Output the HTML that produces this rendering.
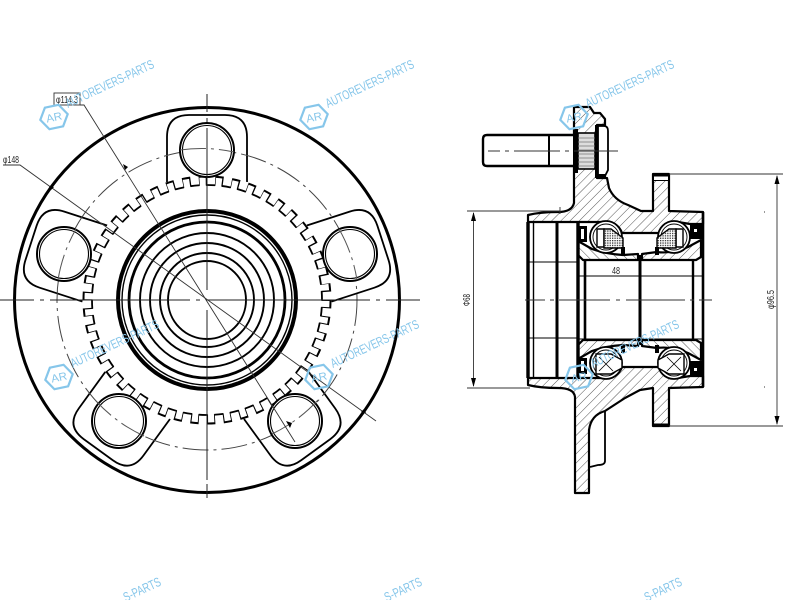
<!DOCTYPE html>
<html><head><meta charset="utf-8"><style>
html,body{margin:0;padding:0;background:#fff;width:800px;height:600px;overflow:hidden}
svg{display:block;overflow:hidden}
.wm text{fill:#86c6ea;font-family:"Liberation Sans",sans-serif}
.wm path{fill:none;stroke:#86c6ea;stroke-width:2.2}
.d{font-family:"Liberation Sans",sans-serif;fill:#222}
</style></head><body>
<svg width="800" height="600" viewBox="0 0 800 600" xmlns="http://www.w3.org/2000/svg">
<defs>
<pattern id="h1" width="6.5" height="6.5" patternUnits="userSpaceOnUse" patternTransform="rotate(45)"><rect width="6.5" height="6.5" fill="#fff"/><line x1="0" y1="0" x2="0" y2="6.5" stroke="#555" stroke-width="1"/></pattern>
<pattern id="h2" width="6.5" height="6.5" patternUnits="userSpaceOnUse" patternTransform="rotate(-45)"><rect width="6.5" height="6.5" fill="#fff"/><line x1="0" y1="0" x2="0" y2="6.5" stroke="#555" stroke-width="1"/></pattern>
<pattern id="dots" width="2.4" height="2.4" patternUnits="userSpaceOnUse"><rect width="2.4" height="2.4" fill="#fff"/><rect width="1.3" height="1.3" fill="#333"/></pattern>
</defs>
<rect width="800" height="600" fill="#fff"/>

<!-- front view -->
<circle cx="207" cy="300" r="192.5" fill="none" stroke="#000" stroke-width="3"/>
<g fill="none" stroke="#000" stroke-width="1.8" transform="translate(207 300)">
<path d="M-40,-118V-163Q-40,-185 -18,-185H18Q40,-185 40,-163V-118"/>
<path transform="rotate(72)" d="M-40,-118V-163Q-40,-185 -18,-185H18Q40,-185 40,-163V-118"/>
<path transform="rotate(144)" d="M-40,-118V-163Q-40,-185 -18,-185H18Q40,-185 40,-163V-118"/>
<path transform="rotate(216)" d="M-40,-118V-163Q-40,-185 -18,-185H18Q40,-185 40,-163V-118"/>
<path transform="rotate(288)" d="M-40,-118V-163Q-40,-185 -18,-185H18Q40,-185 40,-163V-118"/>
</g>
<!-- tone ring teeth -->
<circle cx="207" cy="300" r="124.5" fill="#fff"/>
<circle cx="207" cy="300" r="119.5" fill="none" stroke="#000" stroke-width="10" pathLength="92" stroke-dasharray="1 1"/>
<circle cx="207" cy="300" r="116" fill="none" stroke="#fff" stroke-width="13" pathLength="92" stroke-dasharray="0.76 1.24" stroke-dashoffset="-0.12"/>
<circle cx="207" cy="300" r="115" fill="none" stroke="#000" stroke-width="1.8" pathLength="92" stroke-dasharray="1.16 0.84" stroke-dashoffset="-0.92"/>
<!-- bolt circle -->
<circle cx="207" cy="300" r="150" fill="none" stroke="#444" stroke-width="1" stroke-dasharray="26 5 3 5"/>
<!-- bolt holes -->
<g fill="#fff" stroke="#000">
<circle cx="207" cy="150" r="27" stroke-width="2"/><circle cx="350" cy="254" r="27" stroke-width="2"/><circle cx="295" cy="421" r="27" stroke-width="2"/><circle cx="119" cy="421" r="27" stroke-width="2"/><circle cx="64" cy="254" r="27" stroke-width="2"/>
</g>
<g fill="none" stroke="#000" stroke-width="1.1">
<circle cx="207" cy="150" r="24.5"/><circle cx="350" cy="254" r="24.5"/><circle cx="295" cy="421" r="24.5"/><circle cx="119" cy="421" r="24.5"/><circle cx="64" cy="254" r="24.5"/>
</g>
<g fill="none" stroke="#555" stroke-width="1" stroke-dasharray="26 5 3 5">
<path d="M180,150A150,150 0 0 1 234,152"/><path d="M339,229A150,150 0 0 1 357,280"/><path d="M318,400A150,150 0 0 1 272,434"/><path d="M144,436A150,150 0 0 1 96,401"/><path d="M58,280A150,150 0 0 1 76,229"/>
</g>
<!-- hub rings -->
<g fill="none" stroke="#000">
<circle cx="207" cy="300" r="89" stroke-width="4"/>
<circle cx="207" cy="300" r="85" stroke-width="1.4"/>
<circle cx="207" cy="300" r="78" stroke-width="2.8"/>
<circle cx="207" cy="300" r="67" stroke-width="1.9"/>
<circle cx="207" cy="300" r="57" stroke-width="1.9"/>
<circle cx="207" cy="300" r="47" stroke-width="1.9"/>
<circle cx="207" cy="300" r="39" stroke-width="1.9"/>
</g>
<!-- centre lines -->
<g stroke="#222" stroke-width="1" fill="none">
<path d="M0,300H34M40,300H44M50,300H190M196,300H200M206,300H370M376,300H380M386,300H420"/>
<path d="M207,94V112M207,118V122M207,128V290M207,310V480M207,484V498"/>
</g>
<!-- dims front -->
<g stroke="#333" stroke-width="0.9" fill="none">
<rect x="54" y="93" width="26" height="12"/>
<path d="M80,105H84L295,442"/>
<path d="M3,165H20L376,421"/>
</g>
<path d="M125,170l-2,-6l5,3zM290,428l-4,-7l6,2zM49,186l5,1l-3,3zM366,413l-5,-1l3,-3z" fill="#000"/>
<text class="d" x="56" y="103" font-size="10" textLength="22" lengthAdjust="spacingAndGlyphs">φ114.3</text>
<text class="d" x="3" y="163" font-size="10" textLength="16" lengthAdjust="spacingAndGlyphs">φ148</text>

<!-- section view: hatch bodies -->
<g stroke="#000" stroke-width="2.2" stroke-linejoin="round">
<path fill="url(#h1)" d="M574,107H590L594,113L600,113L605,119V125H597V178H607L609,188Q614,200 628,205L641,211H653V174H669V211L703,212V224H690L678,222Q664,222 660,233H622Q618,222 604,222L578,222H528V215Q540,212 558,212Q572,212 574,203Z"/>
<path fill="url(#h1)" d="M528,385Q540,388 558,388Q574,388 575,397V493H589V430Q591,415 605,411L625,398L640,390L653,388V426H669V388L703,387V376H690L678,378Q664,378 660,367H622Q618,378 604,378L578,378H528Z"/>
<path fill="url(#h2)" d="M578,241L592,249Q606,254 623,255L638,254V260H583L578,255Z"/>
<path fill="url(#h1)" d="M642,254L657,252Q672,254 688,247L701,240V257L696,260H642Z"/>
<path fill="url(#h1)" d="M578,359L592,351Q606,346 623,345L638,346V340H583L578,345Z"/>
<path fill="url(#h2)" d="M642,346L657,348Q672,346 688,353L701,360V343L696,340H642Z"/>
</g>
<rect x="654" y="175" width="14" height="5" fill="#fff"/>
<path d="M653,180.500H669" stroke="#000" stroke-width="1"/>
<!-- tab behind flange -->
<path d="M605,411V461Q605,465 598,465L590,467" fill="none" stroke="#000" stroke-width="1.8"/>
<!-- stud -->
<g stroke="#000" fill="#fff">
<path d="M578,135H487Q483,135 483,139V162Q483,166 487,166H578Z" stroke-width="2.4"/>
<path d="M549,135V166" stroke-width="2"/>
<rect x="578" y="133" width="17" height="36" fill="#ddd" stroke-width="1.6"/>
<path d="M578,138H595M578,142H595M578,146H595M578,150H595M578,154H595M578,158H595M578,162H595M578,166H595" stroke="#777" stroke-width="0.8"/>
<rect x="573" y="129" width="5" height="44" fill="#000" stroke="none"/>
<rect x="595" y="125" width="3" height="53" fill="#000" stroke="none"/>
<path d="M598,126H604Q608,126 608,131V170L604,178H598Z" stroke-width="1.8"/>
<rect x="597" y="174" width="9" height="4" fill="#000" stroke="none"/>
</g>
<!-- inner body lines -->
<g stroke="#000" fill="none">
<path d="M528,222V378" stroke-width="3.4"/>
<path d="M533.5,222V378" stroke-width="1.4"/>
<path d="M557,222V378" stroke-width="3"/>
<path d="M578,222V378" stroke-width="3.4"/>
<path d="M585,260V340" stroke-width="2.6"/>
<path d="M693,260V340" stroke-width="2.4"/>
<path d="M640,255V345" stroke-width="3"/>
<path d="M703,212V387" stroke-width="2.6"/>
<path d="M528,262H578M528,338H578M578,276H703M578,339H703" stroke-width="1"/>
<path d="M583,260H638M642,260H696M583,340H638M642,340H696" stroke-width="2"/>
<path d="M653,175H669M653,425H669" stroke-width="3"/>
</g>
<!-- bearings -->
<g stroke="#000" fill="#fff" stroke-width="1.8">
<circle cx="606" cy="237" r="16"/><circle cx="674" cy="237" r="16"/><circle cx="606" cy="363" r="16"/><circle cx="674" cy="363" r="16"/>
<circle cx="606" cy="237" r="13" stroke-width="0.9"/><circle cx="674" cy="237" r="13" stroke-width="0.9"/><circle cx="606" cy="363" r="13" stroke-width="0.9"/><circle cx="674" cy="363" r="13" stroke-width="0.9"/>
</g>
<g stroke="#000" stroke-width="1.4">
<path fill="#fff" d="M597,229H604V247H597Z"/>
<path fill="url(#dots)" d="M604,229H611L623,238V248H604Z"/>
<path fill="#fff" d="M683,229H676V247H683Z"/>
<path fill="url(#dots)" d="M676,229H669L657,238V248H676Z"/>
<path fill="#fff" d="M596,354H611L622,360V368L611,374H596Z"/>
<path fill="#fff" d="M684,354H669L658,360V368L669,374H684Z"/>
<path fill="none" stroke-width="0.8" d="M599,357L613,371M613,357L599,371M667,357L681,371M681,357L667,371"/>
</g>
<!-- black seal pieces -->
<g fill="#000">
<rect x="578" y="226" width="9" height="16"/><rect x="690" y="225" width="12" height="14"/>
<rect x="578" y="358" width="9" height="16"/><rect x="690" y="361" width="12" height="14"/>
<rect x="621" y="247" width="4" height="8"/><rect x="655" y="247" width="4" height="8"/>
<rect x="621" y="345" width="4" height="8"/><rect x="655" y="345" width="4" height="8"/>
</g>
<g fill="#fff"><rect x="581" y="229" width="3" height="10"/><rect x="581" y="361" width="3" height="10"/><rect x="694" y="229" width="3" height="3"/><rect x="694" y="368" width="3" height="3"/></g>
<!-- section centre lines -->
<g stroke="#333" stroke-width="1" fill="none">
<path d="M488,151H500M505,151H509M514,151H560M565,151H569M574,151H618"/>
<path d="M525,300H545M550,300H554M559,300H610M616,300H620M626,300H685M690,300H694M699,300H712"/>
</g>
<!-- section dims -->
<g stroke="#333" stroke-width="0.9" fill="none">
<path d="M467,211H560M467,388H530M473.5,213V386"/>
<path d="M669,174H783M669,426H783M777,176V424"/>
<path d="M560,207V214M764,212h1M764,387h1"/>
</g>
<path d="M473.5,212l-2.5,9h5zM473.5,387l-2.5,-9h5zM777,175l-2.5,9h5zM777,425l-2.5,-9h5z" fill="#000"/>
<text class="d" x="616" y="274" font-size="10.500" text-anchor="middle" textLength="8" lengthAdjust="spacingAndGlyphs">48</text>
<text class="d" transform="translate(470 306) rotate(-90)" font-size="10" textLength="12" lengthAdjust="spacingAndGlyphs">Φ68</text>
<text class="d" transform="translate(774 309) rotate(-90)" font-size="10.500" textLength="19" lengthAdjust="spacingAndGlyphs">φ96.5</text>

<!-- watermarks -->
<g class="wm" transform="translate(54 117)"><path transform="rotate(-12)" d="M-14,0L-7,-11H7L14,0L7,11H-7Z"/><text transform="rotate(-12)" x="-8" y="4" font-size="11" textLength="16" lengthAdjust="spacingAndGlyphs">AR</text><text transform="translate(14 -9) rotate(-25)" font-size="13" textLength="96" lengthAdjust="spacingAndGlyphs">AUTOREVERS-PARTS</text></g>
<g class="wm" transform="translate(314 117)"><path transform="rotate(-12)" d="M-14,0L-7,-11H7L14,0L7,11H-7Z"/><text transform="rotate(-12)" x="-8" y="4" font-size="11" textLength="16" lengthAdjust="spacingAndGlyphs">AR</text><text transform="translate(14 -9) rotate(-25)" font-size="13" textLength="96" lengthAdjust="spacingAndGlyphs">AUTOREVERS-PARTS</text></g>
<g class="wm" transform="translate(574 117)"><path transform="rotate(-12)" d="M-14,0L-7,-11H7L14,0L7,11H-7Z"/><text transform="rotate(-12)" x="-8" y="4" font-size="11" textLength="16" lengthAdjust="spacingAndGlyphs">AR</text><text transform="translate(14 -9) rotate(-25)" font-size="13" textLength="96" lengthAdjust="spacingAndGlyphs">AUTOREVERS-PARTS</text></g>
<g class="wm" transform="translate(59 377)"><path transform="rotate(-12)" d="M-14,0L-7,-11H7L14,0L7,11H-7Z"/><text transform="rotate(-12)" x="-8" y="4" font-size="11" textLength="16" lengthAdjust="spacingAndGlyphs">AR</text><text transform="translate(14 -9) rotate(-25)" font-size="13" textLength="96" lengthAdjust="spacingAndGlyphs">AUTOREVERS-PARTS</text></g>
<g class="wm" transform="translate(319 377)"><path transform="rotate(-12)" d="M-14,0L-7,-11H7L14,0L7,11H-7Z"/><text transform="rotate(-12)" x="-8" y="4" font-size="11" textLength="16" lengthAdjust="spacingAndGlyphs">AR</text><text transform="translate(14 -9) rotate(-25)" font-size="13" textLength="96" lengthAdjust="spacingAndGlyphs">AUTOREVERS-PARTS</text></g>
<g class="wm" transform="translate(579 377)"><path transform="rotate(-12)" d="M-14,0L-7,-11H7L14,0L7,11H-7Z"/><text transform="rotate(-12)" x="-8" y="4" font-size="11" textLength="16" lengthAdjust="spacingAndGlyphs">AR</text><text transform="translate(14 -9) rotate(-25)" font-size="13" textLength="96" lengthAdjust="spacingAndGlyphs">AUTOREVERS-PARTS</text></g>
<g class="wm"><text transform="translate(162 585) rotate(-25)" text-anchor="end" font-size="13" textLength="40" lengthAdjust="spacingAndGlyphs">S-PARTS</text></g>
<g class="wm"><text transform="translate(423 585) rotate(-25)" text-anchor="end" font-size="13" textLength="40" lengthAdjust="spacingAndGlyphs">S-PARTS</text></g>
<g class="wm"><text transform="translate(683 585) rotate(-25)" text-anchor="end" font-size="13" textLength="40" lengthAdjust="spacingAndGlyphs">S-PARTS</text></g>
</svg>
</body></html>
